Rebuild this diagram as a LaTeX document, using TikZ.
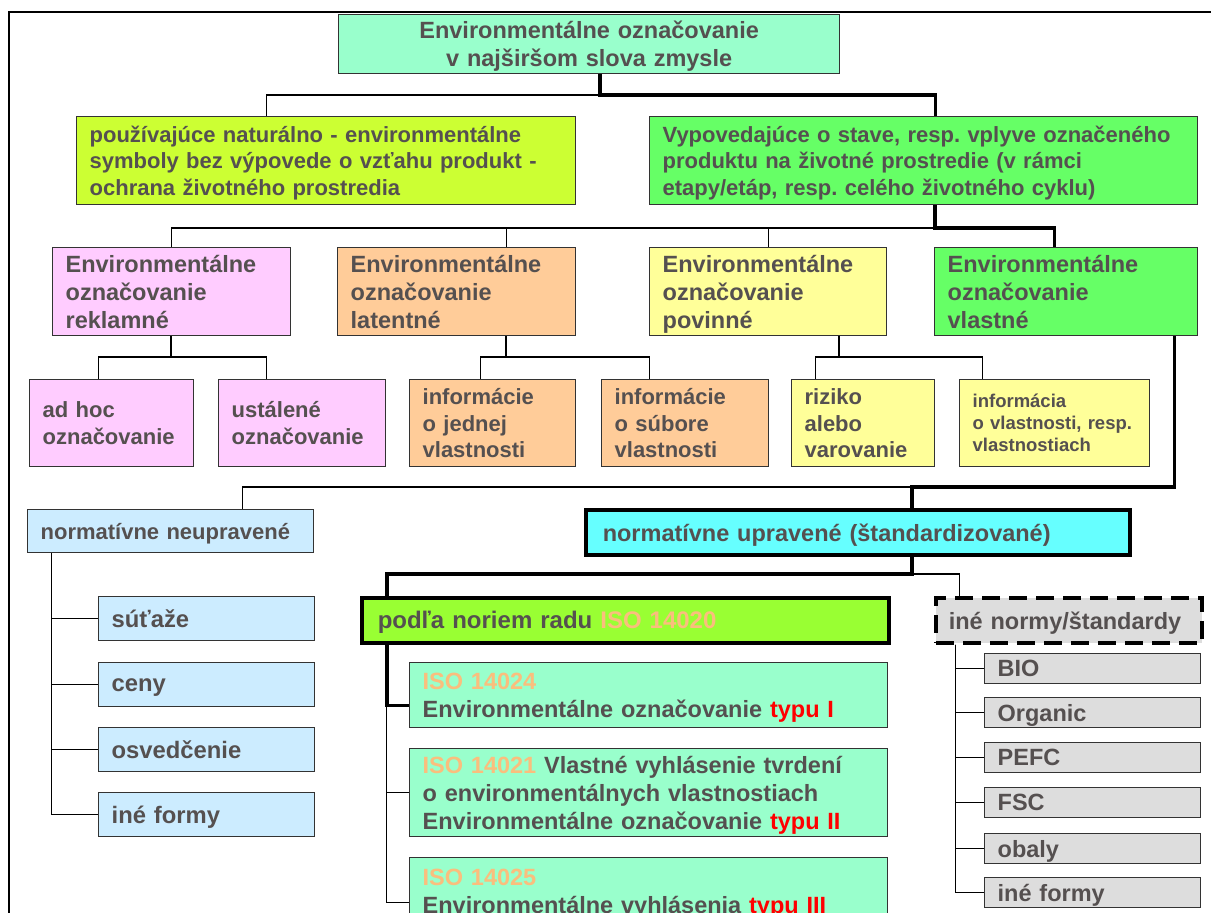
\documentclass[tikz,border=0pt]{standalone}
\usepackage{fontspec}
\setmainfont{Liberation Sans}
\usepackage{tikz}
\usetikzlibrary{calc}
\frenchspacing

\definecolor{txt}{RGB}{85,80,80}
\definecolor{mint}{RGB}{153,255,204}
\definecolor{limey}{RGB}{204,255,51}
\definecolor{grn}{RGB}{102,255,102}
\definecolor{pinky}{RGB}{255,204,255}
\definecolor{peach}{RGB}{255,204,153}
\definecolor{lemon}{RGB}{255,255,153}
\definecolor{skyb}{RGB}{204,236,255}
\definecolor{cyanb}{RGB}{102,255,255}
\definecolor{limeb}{RGB}{153,255,51}
\definecolor{grayb}{RGB}{221,221,221}
\definecolor{isoc}{RGB}{250,190,125}

\newcommand{\iso}[1]{\textcolor{isoc}{#1}}
\newcommand{\typ}[1]{\textcolor{red}{#1}}

\tikzset{
  box/.style={draw=black!80, line width=1.3pt, anchor=north west, inner ysep=0pt, inner xsep=13pt,
    align=left, text=txt, font=\bfseries\fontsize{23.5}{28}\selectfont,
    execute at end node={\par\kern-\prevdepth}},
  wh/.style 2 args={text width=#1pt, minimum height=#2pt},
  small/.style={font=\bfseries\fontsize{22}{26.5}\selectfont},
  heavy/.style={draw=black, line width=3.5pt},
  conn/.style={line width=1.3pt},
  bold conn/.style={line width=3.5pt},
}

\begin{document}
\begin{tikzpicture}[x=1pt, y=-1pt]
\useasboundingbox (0,0) rectangle (1211,913);
\clip (0,0) rectangle (1211,913);
\draw[line width=2.8pt] (9,913) -- (9,12) -- (1211,12);

% levels 1 and 2
\node[box, fill=mint, align=center, wh={475}{59}] (root) at (338,14) {Environmentálne označovanie\\v najširšom slova zmysle};
\node[box, small, fill=limey, wh={473}{88}] (r2a) at (76,116) {používajúce naturálno - environmentálne\\symboly bez výpovede o vzťahu produkt -\\ochrana životného prostredia};
\node[box, small, fill=grn, wh={522}{88}] (r2b) at (649,116) {Vypovedajúce o stave, resp. vplyve označeného\\produktu na životné prostredie (v rámci\\etapy/etáp, resp. celého životného cyklu)};

% level 3
\node[box, fill=pinky, wh={212}{88}] (rekl) at (52,247) {Environmentálne\\označovanie\\reklamné};
\node[box, fill=peach, wh={212}{88}] (lat) at (337,247) {Environmentálne\\označovanie\\latentné};
\node[box, fill=lemon, wh={211}{88}] (pov) at (649,247) {Environmentálne\\označovanie\\povinné};
\node[box, fill=grn, wh={237}{88}] (vlast) at (934,247) {Environmentálne\\označovanie\\vlastné};

% level 4
\node[box, small, fill=pinky, wh={138}{87}] (adhoc) at (29,379) {ad hoc\\označovanie};
\node[box, small, fill=pinky, wh={141}{87}] (ustal) at (218,379) {ustálené\\označovanie};
\node[box, small, fill=peach, wh={140}{87}] (info1) at (409,379) {informácie\\o jednej\\vlastnosti};
\node[box, small, fill=peach, wh={141}{87}] (info2) at (601,379) {informácie\\o súbore\\vlastnosti};
\node[box, small, fill=lemon, wh={117}{87}] (riziko) at (791,379) {riziko\\alebo\\varovanie};
\node[box, fill=lemon, font=\bfseries\fontsize{18.5}{22}\selectfont, wh={164}{87}] (info3) at (959,379) {informácia\\o vlastnosti, resp.\\vlastnostiach};

% normative
\node[box, small, fill=skyb, wh={260}{43}] (neupr) at (27,509) {normatívne neupravené};
\node[box, heavy, fill=cyanb, inner xsep=17pt, wh={510}{45}] (uprav) at (584,508) {normatívne upravené (štandardizované)};
\node[box, heavy, fill=limeb, inner xsep=16pt, font=\bfseries\fontsize{24}{28}\selectfont, wh={495}{45}] (podla) at (360,596) {podľa noriem radu \iso{ISO 14020}};
\node[box, heavy, dash pattern=on 18pt off 9pt, fill=grayb, wh={240}{45}] (ine) at (934,596) {iné normy/štandardy};

\foreach \t/\y [count=\i] in {súťaže/596, ceny/662, osvedčenie/727, iné formy/792}{%
  \node[box, fill=skyb, font=\bfseries\fontsize{23.8}{28}\selectfont, wh={190}{44}] (B-\i) at (98,\y) {\t};
  \draw[conn] ([xshift=-119pt]neupr.south) |- (B-\i.west);
}
\foreach \t/\y [count=\i] in {BIO/653, Organic/697, PEFC/742, FSC/787, obaly/833, iné formy/877}{%
  \node[box, fill=grayb, wh={190}{30}] (G-\i) at (984,\y) {\t};
  \draw[conn] ([xshift=-113pt]ine.south) |- (G-\i.west);
}

\node[box, fill=mint, wh={452}{65}] (iso1) at (409,662) {\iso{ISO 14024}\\Environmentálne označovanie \typ{typu I}};
\node[box, fill=mint, wh={452}{88}] (iso2) at (409,748) {\iso{ISO 14021} Vlastné vyhlásenie tvrdení\\o environmentálnych vlastnostiach\\Environmentálne označovanie \typ{typu II}};
\node[box, fill=mint, wh={452}{67}] (iso3) at (409,857) {\iso{ISO 14025}\\Environmentálne vyhlásenia \typ{typu III}};

% connectors
\coordinate (j0) at (600,95);
\coordinate (j1) at (935,228);
\coordinate (j2) at (171,357);
\coordinate (j3) at (506,357);
\coordinate (j4) at (839,357);
\coordinate (j5) at (912,487);
\coordinate (j6) at (912,574);

\draw[conn] (j0) -| ([xshift=-59.5pt]r2a.north);
\draw[bold conn] (root.south -| j0) -- (j0) -| ([xshift=12pt]r2b.north);

\draw[conn] (j1) -| (rekl.north);
\draw[conn] ([xshift=50pt]lat.north) |- (j1);
\draw[conn] (pov.north) |- (j1);
\draw[bold conn] (r2b.south -| j1) -- (j1) -| ([xshift=-11.5pt]vlast.north);

\draw[conn] (rekl.south -| j2) -- (j2) -| ([xshift=-13pt]adhoc.north);
\draw[conn] (j2) -| ([xshift=-35.5pt]ustal.north);
\draw[conn] (lat.south -| j3) -- (j3) -| ([xshift=-12pt]info1.north);
\draw[conn] (j3) -| ([xshift=-35.5pt]info2.north);
\draw[conn] (pov.south -| j4) -- (j4) -| ([xshift=-47.5pt]riziko.north);
\draw[conn] (j4) -| ([xshift=-72pt]info3.north);

\draw[conn] (j5) -| ([xshift=72pt]neupr.north);
\draw[bold conn] ([xshift=108.5pt]vlast.south) |- (j5) -- (uprav.north -| j5);

\draw[conn] (j6) -| ([xshift=-109pt]ine.north);
\draw[bold conn] (uprav.south -| j6) -- (j6) -| ([xshift=-238.5pt]podla.north);

\draw[conn] ([xshift=-238.5pt]podla.south) |- (iso2.west);
\draw[conn] ([xshift=-238.5pt]podla.south) |- ([yshift=-11.5pt]iso3.west);
\draw[bold conn] ([xshift=-238.5pt]podla.south) |- ([yshift=-10.5pt]iso1.west);
\end{tikzpicture}
\end{document}
